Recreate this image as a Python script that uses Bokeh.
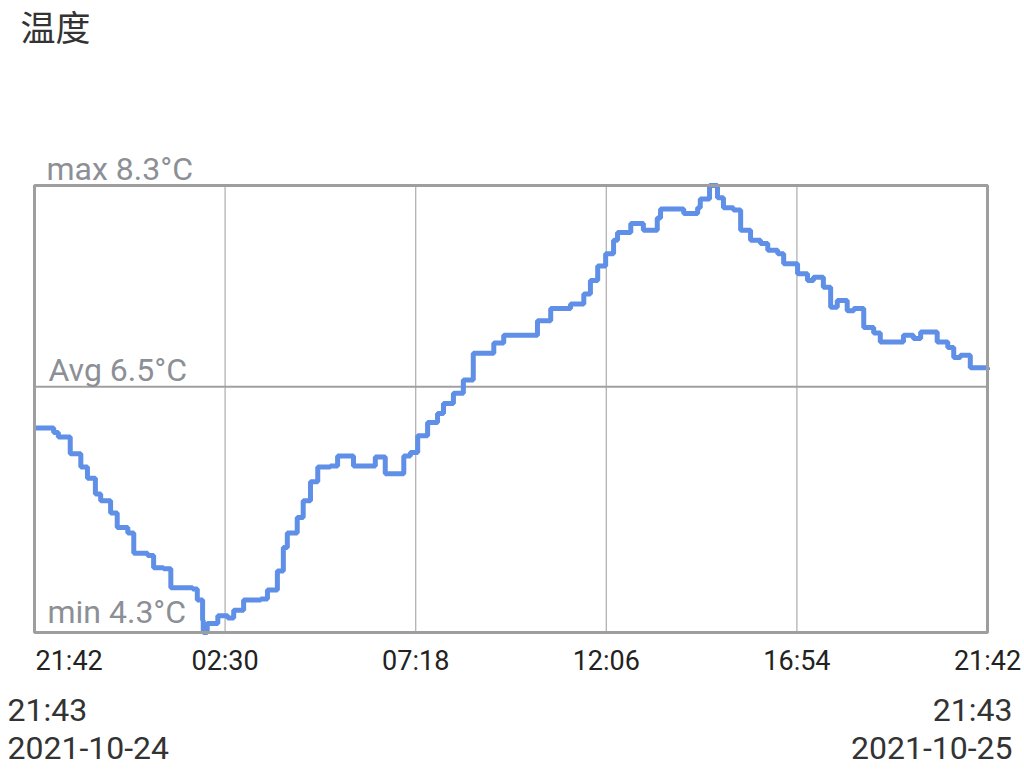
from bokeh.plotting import figure
from bokeh.models import Range1d
from bokeh.core.properties import value
from bokeh.embed import file_html
from bokeh.resources import INLINE

# --- data (minutes since 2021-10-24 21:42, temperature °C) ---
minutes = [0, 29, 36, 54, 70, 80, 92, 100, 115, 125, 141, 150, 171, 180, 195, 206,
           239, 246, 254, 255, 261, 277, 292, 301, 316, 342, 352, 367, 376, 382,
           397, 406, 417, 428, 447, 458, 475, 482, 511, 515, 530, 549, 558, 568,
           579, 594, 609, 618, 633, 648, 663, 694, 709, 739, 760, 780, 810, 830,
           840, 851, 863, 875, 881, 901, 920, 931, 941, 946, 972, 981, 1002, 1006,
           1020, 1032, 1041, 1056, 1067, 1082, 1097, 1108, 1123, 1132, 1147, 1153,
           1168, 1177, 1192, 1203, 1213, 1228, 1238, 1253, 1268, 1278, 1304, 1313,
           1328, 1339, 1354, 1364, 1380, 1389, 1399, 1414, 1440]
temps = [6.13, 6.09, 6.05, 5.90, 5.78, 5.68, 5.54, 5.48, 5.37, 5.24, 5.19, 5.01,
         4.99, 4.88, 4.87, 4.70, 4.69, 4.59, 4.41, 4.30, 4.38, 4.45, 4.43, 4.50,
         4.59, 4.60, 4.68, 4.85, 5.06, 5.19, 5.33, 5.48, 5.65, 5.78, 5.79, 5.88,
         5.88, 5.79, 5.79, 5.87, 5.72, 5.72, 5.88, 5.91, 6.06, 6.18, 6.26, 6.35,
         6.44, 6.56, 6.80, 6.89, 6.96, 6.96, 7.09, 7.20, 7.24, 7.33, 7.45, 7.58,
         7.69, 7.81, 7.88, 7.96, 7.90, 7.90, 8.01, 8.09, 8.09, 8.05, 8.10, 8.18,
         8.30, 8.19, 8.10, 8.08, 7.90, 7.81, 7.78, 7.72, 7.69, 7.60, 7.60, 7.51,
         7.45, 7.48, 7.39, 7.21, 7.27, 7.18, 7.20, 7.03, 6.98, 6.90, 6.90, 6.96,
         6.93, 6.99, 6.99, 6.90, 6.85, 6.76, 6.78, 6.67, 6.65]

tick_minutes = [0, 288, 576, 864, 1152, 1440]
tick_labels = ["21:42", "02:30", "07:18", "12:06", "16:54", "21:42"]

t_min, t_avg, t_max = 4.3, 6.5, 8.3
span_min = 1440
title = "温度"
start_time, start_date = "21:43", "2021-10-24"
end_time, end_date = "21:43", "2021-10-25"

FONT = value("Roboto")
W, H = 1024, 777
# plot box inside the canvas (pixels)
box_l, box_r, box_t, box_b = 34, 987, 185, 632
ppx = (box_r - box_l) / span_min
ppy = (box_b - box_t) / (t_max - t_min)

p = figure(width=W, height=H, output_backend="svg", toolbar_location=None,
           x_range=Range1d(-box_l / ppx, span_min + (W - box_r) / ppx),
           y_range=Range1d(t_min - (H - box_b) / ppy, t_max + box_t / ppy),
           x_axis_location=None, y_axis_location=None,
           min_border=0)
p.outline_line_color = None
p.grid.visible = False
p.background_fill_color = "white"
p.border_fill_color = "white"

# vertical grid lines
inner = tick_minutes[1:-1]
p.segment(x0=inner, x1=inner, y0=[t_min] * len(inner), y1=[t_max] * len(inner),
          line_color="#b2b2b2", line_width=1.3)
# average line
p.segment(x0=[0], x1=[span_min], y0=[t_avg], y1=[t_avg],
          line_color="#a0a0a0", line_width=2)
# data line
p.step(minutes, temps, mode="after", line_color="#5f8fe6", line_width=5)
# frame
p.quad(left=[0], right=[span_min], bottom=[t_min], top=[t_max],
       fill_color=None, line_color="#9e9e9e", line_width=3)

label_color = "#8c9096"
p.text(x=[0, 0, 0], y=[t_max, t_avg, t_min],
       text=["max 8.3°C", "Avg 6.5°C", "min 4.3°C"],
       x_offset=[12, 14, 13], y_offset=[-17, -17, -21],
       text_font=FONT, text_font_size="32px", text_color=label_color,
       text_baseline="alphabetic", text_align="left")

aligns = ["left"] + ["center"] * (len(tick_minutes) - 1)
p.text(x=tick_minutes, y=[t_min] * len(tick_minutes), text=tick_labels,
       x_offset=[1] + [0] * (len(tick_minutes) - 1), y_offset=28,
       text_font=FONT, text_font_size="27px", text_color="#222222",
       text_baseline="alphabetic", text_align=aligns)

p.text(x=[0, 0], y=[t_min, t_min], text=[start_time, start_date],
       x_offset=-27, y_offset=[77, 115],
       text_font=FONT, text_font_size="32px", text_color="#333333",
       text_baseline="alphabetic", text_align="left")
p.text(x=[span_min, span_min], y=[t_min, t_min], text=[end_time, end_date],
       x_offset=25, y_offset=[77, 115],
       text_font=FONT, text_font_size="32px", text_color="#333333",
       text_baseline="alphabetic", text_align="right")

p.text(x=[0], y=[t_max], text=[title], x_offset=-14, y_offset=-160,
       text_font=value("Noto Sans CJK SC"), text_font_size="35px",
       text_color="#333333", text_baseline="middle", text_align="left")

open("out.html", "w").write(file_html(p, INLINE))
